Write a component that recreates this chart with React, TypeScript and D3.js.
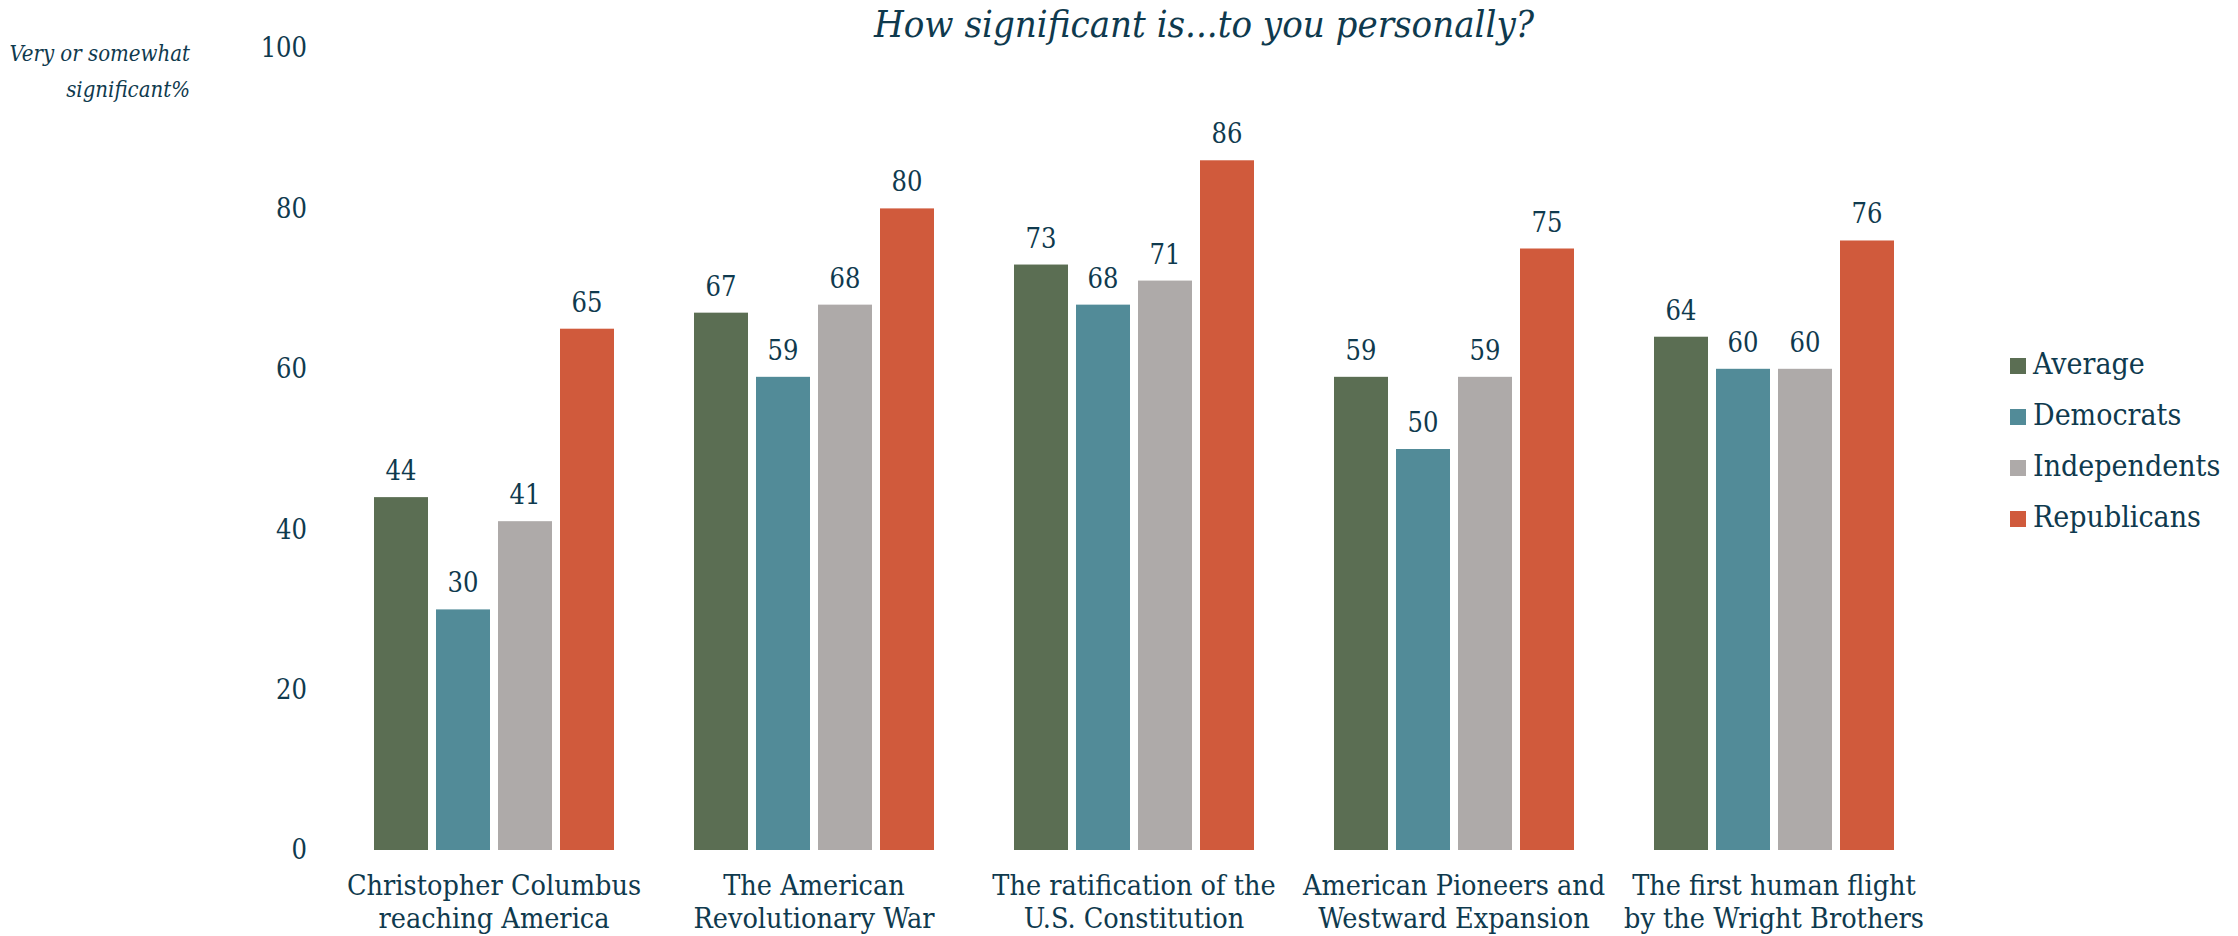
import React from "react";
import * as d3 from "d3";

const categories = [
  ["Christopher Columbus", "reaching America"],
  ["The American", "Revolutionary War"],
  ["The ratification of the", "U.S. Constitution"],
  ["American Pioneers and", "Westward Expansion"],
  ["The first human flight", "by the Wright Brothers"],
];
const seriesNames = ["Average", "Democrats", "Independents", "Republicans"];
const average = [44, 67, 73, 59, 64];
const democrats = [30, 59, 68, 50, 60];
const independents = [41, 68, 71, 59, 60];
const republicans = [65, 80, 86, 75, 76];
const yTicks = [0, 20, 40, 60, 80, 100];
const colors = ["#5b6e53", "#528b98", "#aeaaa9", "#d05a3c"];
const title = "How significant is...to you personally?";
const yLabel = ["Very or somewhat", "significant%"];

const W = 2238;
const H = 936;
const TEXT = "#0f3a4e";
const SERIF = "'DejaVu Serif Condensed', 'DejaVu Serif', serif";

export default function App() {
  const values = [average, democrats, independents, republicans];
  const catKeys = categories.map((c) => c.join(" "));
  const x0 = d3.scaleBand<string>().domain(catKeys).range([334, 1934]).paddingInner(0.25).paddingOuter(0.125);
  const x1 = d3.scaleBand<string>().domain(seriesNames).range([0, x0.bandwidth()]).paddingInner(8 / 62).paddingOuter(0);
  const y = d3.scaleLinear().domain([0, 100]).range([850, 48]);

  return (
    <svg width={W} height={H} style={{ position: "absolute", left: 0, top: 0, background: "#fff" }}>
      <text x={1204} y={37} textAnchor="middle" fontFamily={SERIF} fontStyle="italic" fontSize={38} fill={TEXT}>
        {title}
      </text>
      {yLabel.map((t, i) => (
        <text key={i} x={190} y={61 + i * 36} textAnchor="end" fontFamily={SERIF} fontStyle="italic" fontSize={22} fill={TEXT}>
          {t}
        </text>
      ))}
      {yTicks.map((t) => (
        <text key={t} x={307} y={y(t)} dy="0.35em" textAnchor="end" fontFamily={SERIF} fontSize={27} fill={TEXT}>
          {t}
        </text>
      ))}
      {catKeys.map((k, ci) => (
        <g key={k} transform={`translate(${x0(k)},0)`}>
          {seriesNames.map((s, si) => {
            const v = values[si][ci];
            return (
              <g key={s}>
                <rect x={x1(s)} y={y(v)} width={x1.bandwidth()} height={y(0) - y(v)} fill={colors[si]} />
                <text x={(x1(s) as number) + x1.bandwidth() / 2} y={y(v) - 17} textAnchor="middle" fontFamily={SERIF} fontSize={27} fill={TEXT}>
                  {v}
                </text>
              </g>
            );
          })}
          {categories[ci].map((line, li) => (
            <text key={li} x={x0.bandwidth() / 2} y={895 + li * 33} textAnchor="middle" fontFamily={SERIF} fontSize={28.5} fill={TEXT}>
              {line}
            </text>
          ))}
        </g>
      ))}
      {seriesNames.map((s, i) => (
        <g key={s} transform={`translate(2010, ${366 + i * 51})`}>
          <rect x={0} y={-8} width={16} height={16} fill={colors[i]} />
          <text x={23} y={8} fontFamily={SERIF} fontSize={30} fill={TEXT}>
            {s}
          </text>
        </g>
      ))}
    </svg>
  );
}
